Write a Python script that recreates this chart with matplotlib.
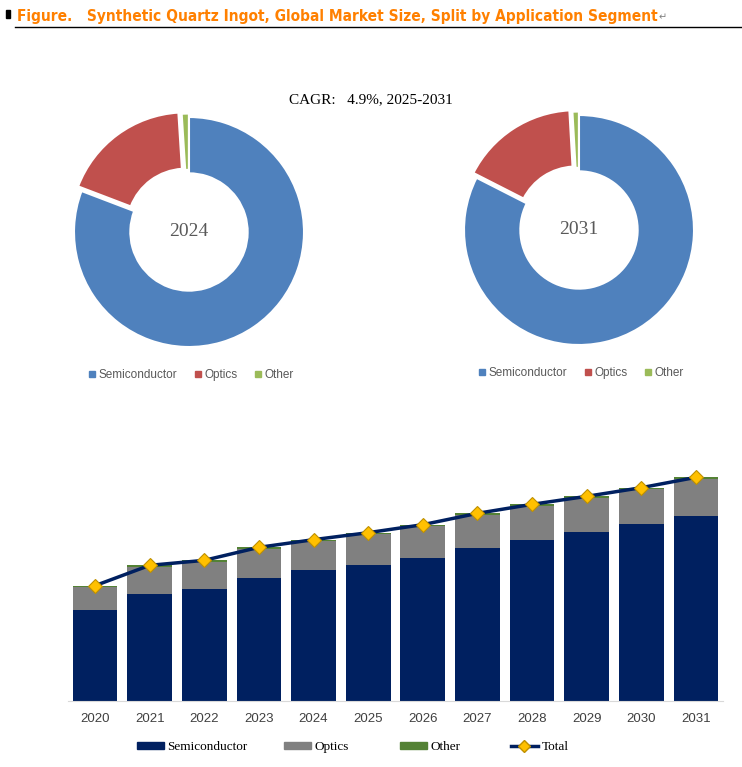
import matplotlib
matplotlib.use("Agg")
import matplotlib.pyplot as plt
from matplotlib.patches import Patch, Rectangle
from matplotlib.lines import Line2D
from matplotlib import font_manager

# data (arbitrary units)
years = ['2020', '2021', '2022', '2023', '2024', '2025', '2026', '2027', '2028', '2029', '2030', '2031']
semiconductor = [272, 320, 335, 368, 392, 407, 428, 458, 482, 506, 530, 554]
optics = [70, 83, 83, 89, 88, 94, 97, 101, 104, 104, 106, 113]
other = [4, 4, 4, 4, 4, 4, 4, 4, 4, 4, 4, 4]
total = [s + o + t for s, o, t in zip(semiconductor, optics, other)]

segments = ['Semiconductor', 'Optics', 'Other']
share_2024 = [80.8, 18.2, 1.0]
share_2031 = [82.5, 16.6, 0.9]
cagr_text = 'CAGR:   4.9%, 2025-2031'

pie_colors = ['#4F81BD', '#C0504D', '#9BBB59']
bar_colors = ['#002060', '#808080', '#548235']

W, H = 742, 767
fig = plt.figure(figsize=(W / 100, H / 100), dpi=100)

def fx(x):
    return x / W

def fy(y):
    return 1 - y / H

# title
fig.patches.append(Rectangle((fx(6), fy(18)), fx(4), 8 / H, color='black', transform=fig.transFigure))
title = fig.text(fx(17), fy(16), 'Figure.   Synthetic Quartz Ingot, Global Market Size, Split by Application Segment',
                 family='DejaVu Sans', stretch='condensed', weight='bold', fontsize=11.5,
                 color='#FF8000', va='center')
# shrink the title if no narrow face is available
fig.canvas.draw()
bb = title.get_window_extent()
if bb.width > 650:
    title.set_fontsize(11.5 * 645 / bb.width)
    fig.canvas.draw()
    bb = title.get_window_extent()
fig.text(fx(bb.x1 + 1), fy(17), '\u21b5', fontsize=7, color='#808080', va='center')
fig.add_artist(Line2D([fx(15), 1], [fy(27), fy(27)], color='black', lw=1, transform=fig.transFigure))

fig.text(fx(371), fy(100), cagr_text, family='Liberation Serif', fontsize=11, ha='center', va='center')

def donut(cx, cy, shares, label):
    r = 115
    pad = 125
    ax = fig.add_axes([fx(cx - pad), fy(cy + pad), 2 * pad / W, 2 * pad / H])
    ax.pie(shares, colors=pie_colors, startangle=90, counterclock=False,
           explode=[0, 0.05, 0.03],
           wedgeprops=dict(width=0.49, edgecolor='white', linewidth=1.5))
    ax.set_xlim(-pad / r, pad / r)
    ax.set_ylim(-pad / r, pad / r)
    ax.set_aspect('auto')
    ax.axis('off')
    ax.text(0, 0, label, family='Liberation Serif', fontsize=14, color='#595959', ha='center', va='center')

donut(189, 232, share_2024, '2024')
donut(579, 230, share_2031, '2031')

for x0, y0 in [(190, 375), (580, 373)]:
    hs = [Line2D([], [], marker='s', ls='', color=c, markersize=4) for c in pie_colors]
    fig.legend(hs, segments, loc='center', bbox_to_anchor=(fx(x0), fy(y0)), ncol=3, frameon=False,
               prop=dict(family='Liberation Sans', size=8.5), labelcolor='#595959',
               handletextpad=0.1, columnspacing=1.2, handlelength=1.0)

# bar chart
ax = fig.add_axes([fx(67.7), fy(701), (723.3 - 67.7) / W, 261 / H])
x = range(len(years))
ax.bar(x, semiconductor, width=0.82, color=bar_colors[0])
ax.bar(x, optics, width=0.82, bottom=semiconductor, color=bar_colors[1])
ax.bar(x, other, width=0.82, bottom=[s + o for s, o in zip(semiconductor, optics)], color=bar_colors[2])
ax.plot(x, total, color='#002060', lw=2.5, marker='D', markersize=7,
        markerfacecolor='#FFC000', markeredgecolor='#BF9000', markeredgewidth=0.8)
ax.set_xlim(-0.5, len(years) - 0.5)
ax.set_ylim(0, 783)
ax.set_xticks(list(x))
ax.set_xticklabels(years, family='Liberation Sans', fontsize=9.5, color='#404040')
ax.tick_params(axis='x', length=0, pad=9)
ax.set_yticks([])
for s in ['top', 'right', 'left']:
    ax.spines[s].set_visible(False)
ax.spines['bottom'].set_color('#D9D9D9')

bar_handles = [Patch(color=bar_colors[0]), Patch(color=bar_colors[1]), Patch(color=bar_colors[2]),
               Line2D([], [], color='#002060', lw=2.5, marker='D', markersize=6,
                      markerfacecolor='#FFC000', markeredgecolor='#BF9000')]
bar_labels = ['Semiconductor', 'Optics', 'Other', 'Total']
for h, l, xs in zip(bar_handles, bar_labels, [137, 284, 400, 511]):
    fig.legend([h], [l], loc='center left', bbox_to_anchor=(fx(xs - 9), fy(747)), frameon=False,
               prop=dict(family='Liberation Serif', size=9.5), handlelength=2.0, handleheight=0.45,
               handletextpad=0.3, borderpad=0.2)

fig.savefig('out.png', dpi=100)
